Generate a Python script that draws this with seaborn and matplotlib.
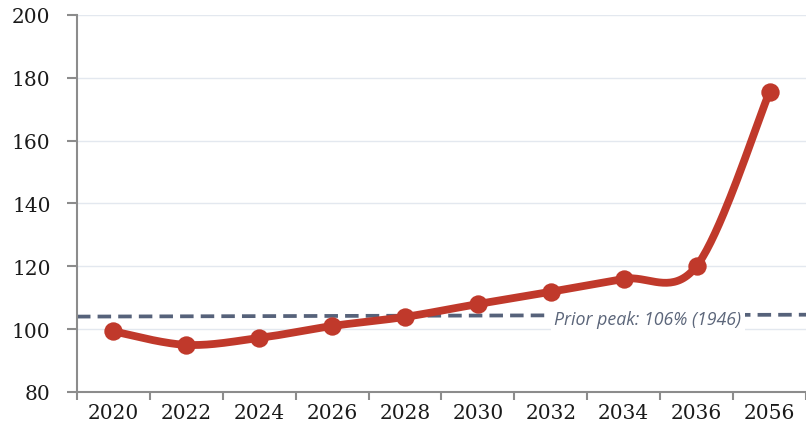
import numpy as np
import pandas as pd
import matplotlib
matplotlib.use("Agg")
import matplotlib.pyplot as plt
import seaborn as sns

years = ["2020", "2022", "2024", "2026", "2028", "2030", "2032", "2034", "2036", "2056"]
values = [99.3, 95.0, 97.2, 101.0, 103.9, 108.0, 111.9, 116.0, 120.1, 175.5]
peak_line = [104.0, 104.6]
peak_label = "Prior peak: 106% (1946)"
yticks = [80, 100, 120, 140, 160, 180, 200]

sns.set_theme(style="white")
plt.rcParams['font.family'] = ['DejaVu Serif']

LINE_COLOR = "#c0392b"

def smooth_path(xs, ys, n=40):
    xs = np.asarray(xs, float); ys = np.asarray(ys, float)
    P = np.column_stack([xs, ys])
    out = []
    for i in range(len(P) - 1):
        p0 = P[i - 1] if i > 0 else P[i]
        p1 = P[i]; p2 = P[i + 1]
        p3 = P[i + 2] if i + 2 < len(P) else P[i + 1]
        c1 = p1 + (p2 - p0) / 6.0
        c2 = p2 - (p3 - p1) / 6.0
        t = np.linspace(0, 1, n)[:, None]
        seg = (1 - t) ** 3 * p1 + 3 * (1 - t) ** 2 * t * c1 + 3 * (1 - t) * t ** 2 * c2 + t ** 3 * p2
        out.append(seg if i == 0 else seg[1:])
    return np.vstack(out)

fig = plt.figure(figsize=(8.06, 4.39), dpi=100)
ax = fig.add_axes([0.0955, 0.1048, 0.9045, 0.8588])

xpos = np.arange(len(years))
path = smooth_path(xpos, values)
df_path = pd.DataFrame({"x": path[:, 0], "y": path[:, 1]})
df_pts = pd.DataFrame({"x": xpos, "y": values})

# dashed prior-peak line
ax.plot([-0.5, len(years) - 0.5], peak_line, color="#56627a", lw=2.7,
        dashes=(3.6, 1.9), zorder=2)

sns.lineplot(data=df_path, x="x", y="y", sort=False, color=LINE_COLOR, lw=5.6,
             ax=ax, zorder=3, estimator=None)
sns.scatterplot(data=df_pts, x="x", y="y", color=LINE_COLOR, s=175,
                edgecolor=LINE_COLOR, linewidth=0, ax=ax, zorder=4)

ax.text(7.33, 103.1, peak_label, ha="center", va="center", fontsize=12.8,
        style="italic", color="#5c667a", family=["Open Sans", "DejaVu Sans"],
        bbox=dict(facecolor="white", edgecolor="none", pad=2.5), zorder=2.5)

ax.set_xlim(-0.5, len(years) - 0.5)
ax.set_ylim(80, 200)
ax.set_yticks(yticks)
ax.set_yticklabels([str(v) for v in yticks])
ax.set_xticks(xpos)
ax.set_xticklabels(years)
ax.set_xticks(np.arange(-0.5, len(years), 1.0), minor=True)
ax.set_xlabel(""); ax.set_ylabel("")

for v in yticks[1:]:
    ax.axhline(v, color="#e3e8ef", lw=1.0, zorder=1)

for s in ["top", "right"]:
    ax.spines[s].set_visible(False)
for s in ["left", "bottom"]:
    ax.spines[s].set_color("#8c8c8c")
    ax.spines[s].set_linewidth(1.5)

ax.tick_params(axis="y", which="major", direction="out", length=7, width=1.5,
               color="#8c8c8c", labelsize=14.5, pad=12, labelcolor="#1a1a1a", left=True)
ax.tick_params(axis="x", which="major", length=0, labelsize=14.5, pad=8,
               labelcolor="#1a1a1a")
ax.tick_params(axis="x", which="minor", direction="out", length=6, width=1.5,
               color="#8c8c8c", bottom=True)

fig.savefig("out.png", dpi=100)
